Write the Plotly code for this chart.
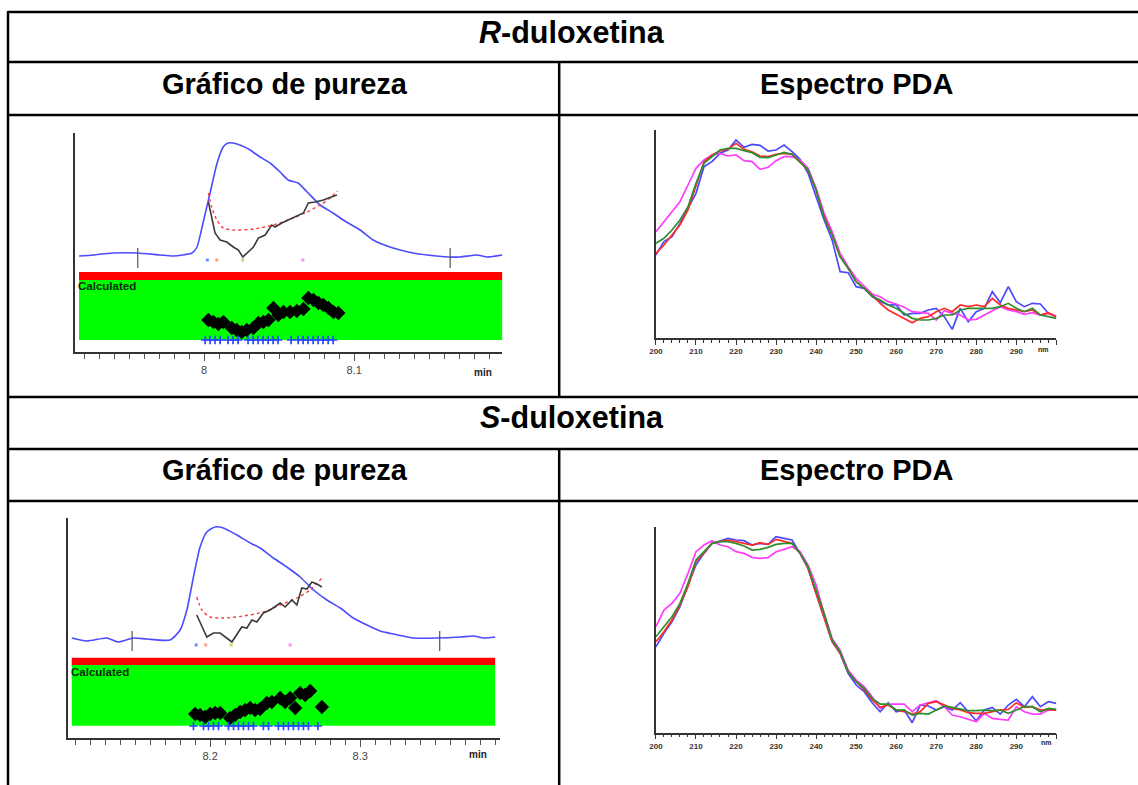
import plotly.graph_objects as go

W, H = 1138, 785
FONT = "Liberation Sans, Arial, sans-serif"

# ---------------- R-duloxetina: purity plot ----------------
r_time = [7.9167, 7.926, 7.9393, 7.9553, 7.9707, 7.9793, 7.992, 7.9953, 7.9993, 8.004,
          8.0087, 8.0127, 8.016, 8.022, 8.0307, 8.0373, 8.044, 8.0507, 8.056, 8.0627,
          8.0687, 8.0773, 8.086, 8.0927, 8.104, 8.1127, 8.122, 8.1307, 8.1393, 8.1487,
          8.1627, 8.1707, 8.182, 8.1887, 8.1987]
r_abs = [-0.001, 0.000, 0.002, 0.002, 0.000, -0.001, 0.002, 0.008, 0.032, 0.062,
         0.092, 0.108, 0.112, 0.111, 0.105, 0.098, 0.092, 0.083, 0.075, 0.072,
         0.063, 0.050, 0.042, 0.035, 0.025, 0.015, 0.009, 0.005, 0.002, 0.000,
         -0.002, -0.002, 0.000, -0.002, 0.000]
r_angle_t = [8.0029, 8.0051, 8.0073, 8.0107, 8.0151, 8.0195, 8.0229, 8.0258, 8.0285, 8.0329,
             8.0362, 8.0407, 8.0451, 8.0473, 8.0518, 8.0595, 8.0662, 8.0695, 8.074, 8.0795,
             8.0851, 8.0885]
r_angle = [0.053, 0.038, 0.022, 0.015, 0.013, 0.008, 0.005, -0.002, 0.002, 0.008,
           0.017, 0.020, 0.030, 0.028, 0.032, 0.037, 0.042, 0.052, 0.053, 0.055,
           0.058, 0.060]
r_thresh_t = [8.0029, 8.0051, 8.0085, 8.0129, 8.0195, 8.0329, 8.0462, 8.0595, 8.0685, 8.0773,
              8.084, 8.0889]
r_thresh = [0.062, 0.048, 0.035, 0.027, 0.025, 0.026, 0.030, 0.037, 0.043, 0.050,
            0.057, 0.064]
r_calc_t = [8.0029, 8.0062, 8.0095, 8.0129, 8.0185, 8.0218, 8.0251, 8.0285, 8.0329, 8.0362,
            8.0395, 8.0429, 8.0462, 8.0495, 8.0529, 8.0573, 8.0618, 8.0662, 8.0695, 8.0729,
            8.0762, 8.0795, 8.0829, 8.0862, 8.0895]
r_calc = [-0.065, -0.067, -0.069, -0.067, -0.073, -0.075, -0.077, -0.075, -0.073, -0.068,
          -0.067, -0.065, -0.053, -0.060, -0.057, -0.057, -0.056, -0.054, -0.043, -0.045,
          -0.048, -0.050, -0.053, -0.057, -0.058]
r_scan_t = [8.0007, 8.004, 8.0073, 8.0107, 8.016, 8.0193, 8.0227, 8.0293, 8.0327, 8.036,
            8.0393, 8.0427, 8.046, 8.0493, 8.058, 8.0627, 8.066, 8.0693, 8.0727, 8.076,
            8.0793, 8.0827, 8.086]
r_spec_t = [8.0022, 8.0085, 8.0258, 8.0658]
r_events = [7.9558, 8.164]

# ---------------- S-duloxetina: purity plot ----------------
s_time = [8.1078, 8.1178, 8.1311, 8.1389, 8.1489, 8.1578, 8.1733, 8.18, 8.1845, 8.1889,
          8.1933, 8.1978, 8.2033, 8.2089, 8.2178, 8.2267, 8.2333, 8.2422, 8.2511, 8.26,
          8.2689, 8.2778, 8.2867, 8.2955, 8.3045, 8.3133, 8.3222, 8.3355, 8.351, 8.3667,
          8.3755, 8.3822, 8.39]
s_abs = [0.000, -0.003, 0.000, -0.004, 0.000, -0.001, -0.002, 0.008, 0.028, 0.061,
         0.091, 0.106, 0.111, 0.110, 0.103, 0.095, 0.090, 0.080, 0.071, 0.061,
         0.048, 0.038, 0.030, 0.020, 0.013, 0.007, 0.004, 0.000, 0.000, 0.001,
         0.002, 0.000, 0.001]
s_angle_t = [8.1911, 8.1978, 8.2022, 8.2067, 8.2145, 8.2211, 8.2245, 8.2278, 8.2311, 8.2355,
             8.24, 8.2467, 8.25, 8.2545, 8.2578, 8.2611, 8.2645, 8.2678, 8.2711, 8.2745]
s_angle = [0.023, 0.001, 0.005, 0.005, -0.004, 0.011, 0.010, 0.018, 0.016, 0.025,
           0.028, 0.035, 0.031, 0.038, 0.033, 0.050, 0.049, 0.056, 0.054, 0.051]
s_thresh_t = [8.1911, 8.1945, 8.2, 8.2089, 8.2222, 8.2355, 8.2467, 8.2578, 8.2667, 8.2745]
s_thresh = [0.041, 0.028, 0.021, 0.020, 0.022, 0.026, 0.033, 0.040, 0.048, 0.060]
s_calc_t = [8.19, 8.1933, 8.1967, 8.2, 8.2033, 8.2067, 8.2133, 8.2167, 8.22, 8.2233,
            8.2267, 8.23, 8.2333, 8.2378, 8.2411, 8.2467, 8.25, 8.2533, 8.2567, 8.26,
            8.2633, 8.2667, 8.2745]
s_calc = [-0.076, -0.077, -0.079, -0.076, -0.075, -0.075, -0.080, -0.077, -0.074, -0.072,
          -0.070, -0.072, -0.071, -0.065, -0.064, -0.060, -0.064, -0.060, -0.070, -0.055,
          -0.057, -0.053, -0.069]
s_scan_t = [8.1889, 8.1956, 8.1989, 8.2022, 8.2056, 8.2122, 8.2156, 8.2189, 8.2222, 8.2256,
            8.2289, 8.2355, 8.2389, 8.2455, 8.2489, 8.2522, 8.2555, 8.2589, 8.2622, 8.2655,
            8.2718]
s_spec_t = [8.1907, 8.1971, 8.214, 8.2533]
s_events = [8.148, 8.353]

# ---------------- PDA spectra (mAU) ----------------
wavelength_nm = [200, 202, 204, 206, 208, 210, 212, 214, 216, 218, 220, 222, 224, 226, 228,
                 230, 232, 234, 236, 238, 240, 242, 244, 246, 248, 250, 252, 254, 256, 258,
                 260, 262, 264, 266, 268, 270, 272, 274, 276, 278, 280, 282, 284, 286, 288,
                 290, 292, 294, 296, 298, 300]

r_spec_blue = [249, 289, 304, 344, 389, 434, 514, 529, 554, 564, 594, 572, 581, 578, 561,
               564, 579, 559, 536, 494, 424, 354, 294, 199, 196, 154, 149, 124, 109, 99,
               100, 69, 74, 74, 84, 89, 64, 26, 89, 49, 79, 89, 139, 106, 154,
               109, 94, 104, 102, 74, 64]
r_spec_red = [254, 279, 309, 339, 384, 454, 529, 549, 561, 566, 584, 566, 559, 546, 544,
              551, 554, 551, 529, 504, 444, 364, 309, 244, 209, 169, 149, 129, 104, 84,
              71, 59, 46, 59, 64, 79, 89, 79, 99, 94, 99, 94, 119, 99, 89,
              84, 79, 84, 69, 76, 64]
r_spec_green = [284, 299, 324, 354, 394, 464, 524, 544, 564, 569, 569, 562, 556, 542, 541,
                549, 557, 551, 529, 504, 444, 359, 309, 244, 209, 169, 149, 126, 114, 99,
                89, 74, 59, 54, 54, 59, 69, 69, 84, 89, 89, 89, 89, 94, 104,
                89, 79, 89, 69, 64, 59]
r_spec_magenta = [319, 349, 379, 409, 459, 509, 534, 549, 554, 546, 549, 532, 529, 506, 512,
                  532, 544, 544, 534, 509, 449, 374, 319, 254, 214, 179, 156, 132, 124, 109,
                  102, 92, 79, 76, 74, 54, 82, 74, 69, 54, 56, 69, 82, 94, 84,
                  79, 71, 76, 69, 74, 66]

s_spec_blue = [258, 298, 333, 378, 443, 503, 538, 568, 575, 583, 578, 576, 563, 568, 565,
               588, 583, 578, 538, 493, 418, 348, 273, 238, 178, 143, 123, 90, 63, 90,
               63, 68, 30, 83, 80, 68, 78, 68, 90, 63, 36, 68, 76, 56, 83,
               100, 78, 108, 78, 93, 88]
s_spec_red = [273, 303, 338, 383, 438, 513, 540, 568, 573, 578, 573, 568, 563, 570, 565,
              580, 573, 568, 538, 493, 418, 348, 273, 238, 183, 153, 128, 98, 76, 83,
              68, 63, 56, 63, 88, 93, 83, 73, 68, 60, 58, 58, 63, 68, 70,
              90, 76, 78, 68, 70, 68]
s_spec_green = [288, 318, 348, 388, 448, 518, 543, 568, 573, 573, 568, 560, 548, 550, 556,
                565, 568, 568, 538, 498, 428, 358, 278, 243, 183, 153, 133, 103, 86, 86,
                68, 68, 53, 58, 56, 68, 80, 76, 70, 66, 66, 68, 66, 68, 58,
                68, 78, 78, 63, 73, 70]
s_spec_magenta = [318, 368, 388, 418, 478, 543, 563, 576, 563, 558, 543, 538, 526, 523, 525,
                  543, 550, 558, 543, 503, 443, 358, 283, 248, 188, 158, 138, 108, 73, 86,
                  86, 86, 63, 83, 90, 96, 78, 53, 48, 40, 33, 58, 43, 40, 38,
                  78, 63, 56, 56, 68, 68]

spec_colors = {"blue": "#4a4aff", "red": "#ff2a2a", "green": "#2f8f2f", "magenta": "#ff3cff"}
dot_colors = ["#6f8cff", "#ff9c8c", "#d6d070", "#ff8cf0"]

fig = go.Figure()

# layout positions are given in page pixels; horizontal ones are rescaled to the paper width
X_OFF, X_SCALE = 7.0, 0.9935


def fx(xp):
    return ((xp - X_OFF) / X_SCALE) / W


def fy(yp):
    return 1 - yp / H


def purity_panel(n, t, a, at, av, tt, tv, ct, cv, st, dt, ev, plus_y, dot_y):
    xa, ya = f"x{n}", f"y{n}"
    fig.add_trace(go.Scatter(x=t, y=a, mode="lines",
                             line=dict(color="#4b4bff", width=1.6, shape="spline", smoothing=0.6),
                             xaxis=xa, yaxis=ya, hoverinfo="skip"))
    fig.add_trace(go.Scatter(x=tt, y=tv, mode="lines",
                             line=dict(color="#ff3b3b", width=1.4, dash="dot", shape="spline", smoothing=0.8),
                             xaxis=xa, yaxis=ya, hoverinfo="skip"))
    fig.add_trace(go.Scatter(x=at, y=av, mode="lines", line=dict(color="#3a3a3a", width=1.6),
                             xaxis=xa, yaxis=ya, hoverinfo="skip"))
    fig.add_trace(go.Scatter(x=ct, y=cv, mode="markers",
                             marker=dict(symbol="diamond", size=11, color="black"),
                             xaxis=xa, yaxis=ya, hoverinfo="skip"))
    fig.add_trace(go.Scatter(x=st, y=[plus_y] * len(st), mode="markers",
                             marker=dict(symbol="cross-thin", size=6,
                                         line=dict(width=1.7, color="#2848ff")),
                             xaxis=xa, yaxis=ya, hoverinfo="skip"))
    fig.add_trace(go.Scatter(x=dt, y=[dot_y] * len(dt), mode="markers",
                             marker=dict(symbol="square", size=3, color=dot_colors),
                             xaxis=xa, yaxis=ya, hoverinfo="skip"))
    ex, ey = [], []
    for e in ev:
        ex += [e, e, None]
        ey += [0.007, -0.013, None]
    fig.add_trace(go.Scatter(x=ex, y=ey, mode="lines", line=dict(color="#555555", width=1.2),
                             xaxis=xa, yaxis=ya, hoverinfo="skip"))


def spectra_panel(n, blue, red, green, magenta):
    for vals, c in ((blue, "blue"), (magenta, "magenta"), (red, "red"), (green, "green")):
        fig.add_trace(go.Scatter(x=wavelength_nm, y=vals, mode="lines",
                                 line=dict(color=spec_colors[c], width=1.7),
                                 xaxis=f"x{n}", yaxis=f"y{n}", hoverinfo="skip"))


purity_panel("", r_time, r_abs, r_angle_t, r_angle, r_thresh_t, r_thresh, r_calc_t, r_calc,
             r_scan_t, r_spec_t, r_events, -0.085, -0.005)
spectra_panel("2", r_spec_blue, r_spec_red, r_spec_green, r_spec_magenta)
purity_panel("3", s_time, s_abs, s_angle_t, s_angle, s_thresh_t, s_thresh, s_calc_t, s_calc,
             s_scan_t, s_spec_t, s_events, -0.088, -0.007)
spectra_panel("4", s_spec_blue, s_spec_red, s_spec_green, s_spec_magenta)

axis_line = dict(showline=True, linecolor="#333333", linewidth=1.5, showgrid=False, zeroline=False)


def time_axes(key, ykey, xpx, ypx, xr, yr, majors, anchor):
    fig.layout[key] = dict(domain=[fx(xpx[0]), fx(xpx[1])], range=xr, anchor=anchor, **axis_line,
                           ticks="outside", ticklen=7, tickcolor="#555555", tickwidth=1,
                           tickvals=majors, ticktext=[f"{m:g}" for m in majors],
                           tickfont=dict(family=FONT, size=11, color="#444444"),
                           minor=dict(dtick=0.01, tick0=8.0, ticks="outside", ticklen=5,
                                      tickcolor="#555555", showgrid=False))
    fig.layout[ykey] = dict(domain=[fy(ypx[1]), fy(ypx[0])], range=yr, anchor=key.replace("axis", ""),
                            **axis_line, showticklabels=False, ticks="")


def wl_axes(key, ykey, xpx, ypx, yr, anchor):
    majors = [200, 210, 220, 230, 240, 250, 260, 270, 280, 290, 300]
    fig.layout[key] = dict(domain=[fx(xpx[0]), fx(xpx[1])], range=[200, 300], anchor=anchor, **axis_line,
                           ticks="outside", ticklen=5, tickcolor="#333333", tickwidth=1,
                           tickvals=majors,
                           ticktext=[f"<b>{m}</b>" if m < 300 else "" for m in majors],
                           tickfont=dict(family=FONT, size=8, color="#333333"),
                           minor=dict(dtick=2, tick0=200, ticks="outside", ticklen=3,
                                      tickcolor="#333333", showgrid=False))
    fig.layout[ykey] = dict(domain=[fy(ypx[1]), fy(ypx[0])], range=yr, anchor=key.replace("axis", ""),
                            **axis_line, showticklabels=False, ticks="")


time_axes("xaxis", "yaxis", (75, 502), (133, 352), [7.914, 8.19867], [-0.097, 0.122], [8.0, 8.1], "y")
wl_axes("xaxis2", "yaxis2", (655.7, 1056), (130, 338), [0, 624], "y2")
time_axes("xaxis3", "yaxis3", (68.3, 500), (518, 738), [8.1055, 8.3933], [-0.100, 0.120], [8.2, 8.3], "y3")
wl_axes("xaxis4", "yaxis4", (655.7, 1056), (526.7, 732.7), [0, 618], "y4")

shapes = []
# Purity bands (red: threshold flag, green: calculated region)
for xr, yr, x0f, x1f, red, green in (
        ("x", "y", 0.0094, 1.0, (-0.017, -0.025), (-0.025, -0.085)),
        ("x3", "y3", 0.0079, 0.9884, (-0.0197, -0.027), (-0.027, -0.0877))):
    shapes.append(dict(type="rect", xref=f"{xr} domain", yref=yr, x0=x0f, x1=x1f,
                       y0=red[1], y1=red[0], fillcolor="#ff0000", line=dict(width=0), layer="below"))
    shapes.append(dict(type="rect", xref=f"{xr} domain", yref=yr, x0=x0f, x1=x1f,
                       y0=green[1], y1=green[0], fillcolor="#00ff00", line=dict(width=0), layer="below"))


# Table rules
def hline(yp, x0p=8, x1p=1160):
    return dict(type="line", xref="paper", yref="paper", x0=fx(x0p), x1=fx(x1p), y0=fy(yp), y1=fy(yp),
                line=dict(color="black", width=2.5), layer="above")


def vline(xp, y0p, y1p):
    return dict(type="line", xref="paper", yref="paper", x0=fx(xp), x1=fx(xp), y0=fy(y0p), y1=fy(y1p),
                line=dict(color="black", width=2.5), layer="above")


for yp in (12, 62, 115, 397, 449, 501):
    shapes.append(hline(yp))
shapes.append(vline(8, 11, 790))
shapes.append(vline(559, 62, 397))
shapes.append(vline(559, 449, 790))

annotations = []


def text(xp, yp, s, size, color="black", xanchor="center"):
    annotations.append(dict(x=fx(xp), y=fy(yp), xref="paper", yref="paper", text=s, showarrow=False,
                            xanchor=xanchor, yanchor="middle", borderpad=0,
                            font=dict(family=FONT, size=size, color=color)))


text(572, 32, "<b><i>R</i>-duloxetina</b>", 30.5)
text(285, 84, "<b>Gráfico de pureza</b>", 29)
text(856, 84, "<b>Espectro PDA</b>", 29)
text(572, 417, "<b><i>S</i>-duloxetina</b>", 30.5)
text(285, 470, "<b>Gráfico de pureza</b>", 29)
text(856, 470, "<b>Espectro PDA</b>", 29)

text(77, 286, "<b>Calculated</b>", 11.5, color="#0d2a0d", xanchor="left")
text(70, 672, "<b>Calculated</b>", 11.5, color="#0d2a0d", xanchor="left")
text(483, 372, "<b>min</b>", 10, color="#222222")
text(478, 754, "<b>min</b>", 10, color="#222222")
text(1043, 349, "<b>nm</b>", 7, color="#222222")
text(1046, 742, "<b>nm</b>", 7, color="#222222")

fig.update_layout(width=W, height=H, margin=dict(l=0, r=0, t=0, b=0, pad=0), showlegend=False,
                  paper_bgcolor="white", plot_bgcolor="white", shapes=shapes,
                  annotations=annotations)

fig.write_html("out.html")
